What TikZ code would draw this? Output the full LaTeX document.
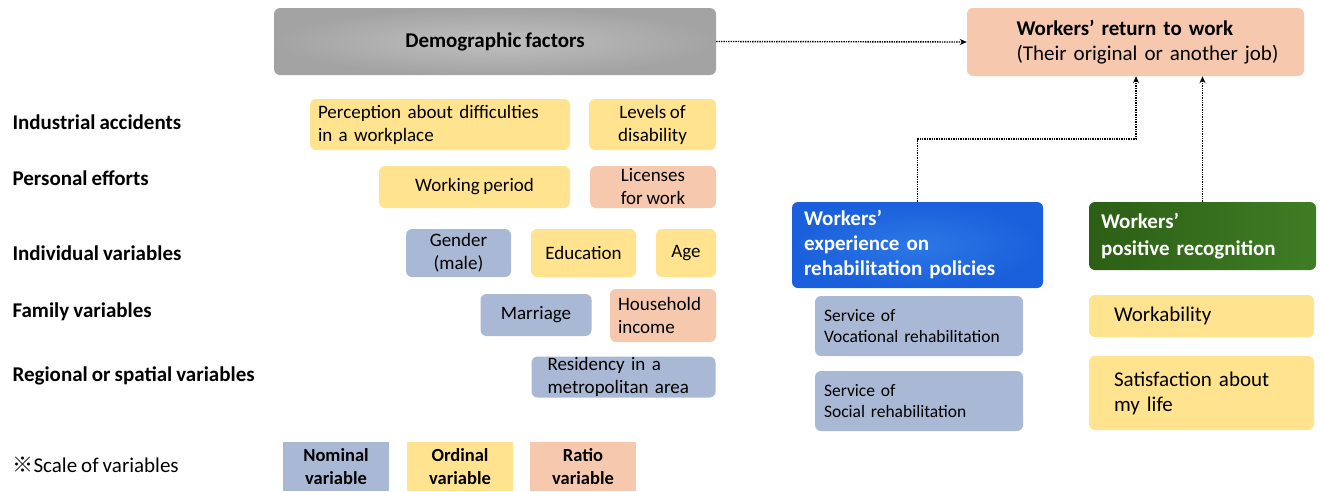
\documentclass[tikz,border=0pt]{standalone}
\usepackage{fontspec}
\setmainfont{Carlito}[WordSpace=0.85]
\newfontfamily\cjkfont{Noto Sans CJK JP}
\usepackage{tikz}
\usetikzlibrary{arrows.meta,calc,positioning}

\definecolor{nomcol}{HTML}{A9B8D4}
\definecolor{ordcol}{HTML}{FFE38F}
\definecolor{ratcol}{HTML}{F6C8AE}
\definecolor{blueout}{HTML}{1A5FDB}
\definecolor{bluein}{HTML}{2C78E6}
\definecolor{greenout}{HTML}{2C5F15}
\definecolor{greenin}{HTML}{3F7D24}

\begin{document}
\begin{tikzpicture}[x=1pt, y=-1pt,
        box/.style={rounded corners=6pt, inner sep=0pt, align=center,
            font=\fontsize{19}{23}\selectfont},
        nom/.style={box, fill=nomcol},
        ord/.style={box, fill=ordcol},
        rat/.style={box, fill=ratcol},
        lft/.style={align=left, text width=#1},
        lbl/.style={anchor=west, font=\bfseries\fontsize{21}{24}\selectfont},
        key/.style={inner sep=0pt, align=center, font=\bfseries\fontsize{18.5}{23}\selectfont},
        flow/.style={densely dotted, line width=1.4pt, -{Stealth[length=7pt,width=6pt]}}]
    \useasboundingbox (0,0) rectangle (1320,491);

    % top row
    \node[box, minimum width=442, minimum height=67, inner color=gray!50, outer color=gray!72,
        font=\bfseries\fontsize{21}{24}\selectfont] (demo) at (495,41.5) {Demographic factors};
    \node[rat, lft=300, minimum width=337, minimum height=68,
        font=\fontsize{21}{25}\selectfont] (rtw) at (1135.5,42)
        {\hspace*{31pt}\textbf{Workers’ return to work}\\\hspace*{31pt}(Their original or another job)};

    % row labels
    \node[lbl] (lind) at (9,122) {Industrial accidents};
    \node[lbl] (lper) at (9,178) {Personal efforts};
    \node[lbl] (lidv) at (9,253) {Individual variables};
    \node[lbl] (lfam) at (9,312) {Family variables};
    \node[lbl] (lreg) at (9,376) {Regional or spatial variables};
    \node[lbl, font=\fontsize{21}{24}\selectfont] (lscale) at (9,465) {{\cjkfont ※}Scale of variables};

    % demographic variables
    \node[ord, lft=244, minimum width=260, minimum height=51] (percep) at (440,124.5)
        {Perception about difficulties\\in a workplace};
    \node[ord, minimum width=127, minimum height=51] (levels) at (652.5,124.5) {Levels of\\disability};
    \node[ord, minimum width=191, minimum height=42] (workper) at (474.5,187) {Working period};
    \node[rat, minimum width=126, minimum height=42] (licen) at (653,187) {Licenses\\for work};
    \node[nom, minimum width=105, minimum height=48] (gender) at (458.5,253) {Gender\\(male)};
    \node[ord, minimum width=105, minimum height=48] (educ) at (583.5,253) {Education};
    \node[ord, minimum width=60, minimum height=48] (age) at (686,253) {Age};
    \node[nom, minimum width=111, minimum height=42] (marri) at (536,315) {Marriage};
    \node[rat, lft=90, minimum width=106, minimum height=53] (income) at (663,315.5)
        {Household\\income};
    \node[nom, lft=152, minimum width=184, minimum height=41] (resid) at (623.5,377)
        {Residency in a\\metropolitan area};

    % scale legend
    \node[key, fill=nomcol, minimum width=106, minimum height=49] (knom) at (336,466.5) {Nominal\\variable};
    \node[key, fill=ordcol, minimum width=106, minimum height=49] (kord) at (460,466.5) {Ordinal\\variable};
    \node[key, fill=ratcol, minimum width=106, minimum height=49] (krat) at (583,466.5) {Ratio\\variable};

    % policy and recognition
    \node[box, lft=227, minimum width=251, minimum height=86, inner color=bluein, outer color=blueout,
        text=white, font=\bfseries\fontsize{21}{25}\selectfont] (expr) at (917.5,245)
        {Workers’\\experience on\\rehabilitation policies};
    \node[box, lft=203, minimum width=227, minimum height=68, left color=greenout, right color=greenin,
        text=white, font=\bfseries\fontsize{21}{27}\selectfont] (posrec) at (1202.5,236)
        {Workers’\\positive recognition};
    \node[nom, lft=190, minimum width=208, minimum height=60, font=\fontsize{17.5}{21}\selectfont]
        (vocat) at (919,326) {Service of\\Vocational rehabilitation};
    \node[nom, lft=190, minimum width=208, minimum height=60, font=\fontsize{17.5}{21}\selectfont]
        (social) at (919,401) {Service of\\Social rehabilitation};
    \node[ord, lft=175, minimum width=225, minimum height=42, font=\fontsize{21}{25}\selectfont]
        (workab) at (1201.5,316) {Workability};
    \node[ord, lft=175, minimum width=225, minimum height=74, font=\fontsize{21}{25}\selectfont]
        (satis) at (1201.5,393) {Satisfaction about\\my life};

    % paths
    \coordinate (bend) at (1136,139);
    \draw[flow] (demo.east) -- (rtw.west);
    \draw[flow] (expr.north) |- (bend) -- (bend |- rtw.south);
    \draw[flow] (posrec.north) -- (posrec.north |- rtw.south);
\end{tikzpicture}
\end{document}
